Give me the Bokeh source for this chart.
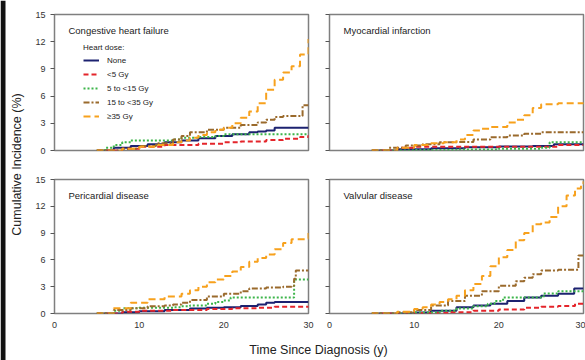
from bokeh.plotting import figure
from bokeh.models import (Range1d, FixedTicker, Label, Legend, LegendItem,
                          CustomLabelingPolicy, BoxAnnotation)
from bokeh.layouts import row, column
from bokeh.embed import file_html
from bokeh.resources import INLINE
import math

# ---------------- data ----------------
SERIES = ["None", "<5 Gy", "5 to <15 Gy", "15 to <35 Gy", "\u226535 Gy"]
X_TICKS = [0, 10, 20, 30]
Y_TICKS = [0, 3, 6, 9, 12, 15]
PANEL_TITLES = ["Congestive heart failure", "Myocardial infarction",
                "Pericardial disease", "Valvular disease"]

# Congestive heart failure
CHF_NONE_T = [5, 7, 9, 11, 13, 15, 17, 19, 21, 23, 24, 25, 26, 30]
CHF_NONE_V = [0, 0.3, 0.5, 0.7, 0.9, 1.1, 1.35, 1.6, 1.8, 2.0, 2.1, 2.2, 2.5, 2.5]
CHF_LT5_T = [5, 8, 10, 13, 17, 20, 22, 25, 27, 29, 30]
CHF_LT5_V = [0, 0.2, 0.4, 0.6, 0.75, 0.9, 1.0, 1.15, 1.3, 1.5, 1.7]
CHF_G515_T = [5, 6, 7, 8, 9, 12, 14, 15, 17, 19, 20, 30]
CHF_G515_V = [0, 0.3, 0.6, 0.9, 1.1, 1.1, 1.2, 1.4, 1.5, 1.6, 1.8, 1.8]
CHF_G1535_T = [5, 8, 10, 12, 14, 15, 16, 18, 20, 22, 24, 25, 26, 27, 29.3, 30]
CHF_G1535_V = [0, 0.2, 0.5, 0.8, 1.2, 1.6, 2.0, 2.3, 2.5, 2.8, 3.1, 3.4, 3.7, 3.8, 5.0, 5.0]
CHF_G35_T = [5, 8, 10, 12, 14, 15, 16, 17, 18, 19, 20, 21, 22, 23, 24, 25, 26, 27, 28, 29, 30]
CHF_G35_V = [0, 0.2, 0.4, 0.6, 0.9, 1.1, 1.4, 1.7, 2.0, 2.3, 2.5, 3.0, 3.6, 4.3, 5.2, 6.7, 7.8, 8.6, 9.3, 10.6, 12.3]

# Myocardial infarction
MI_NONE_T = [5, 8, 12, 16, 20, 24, 26.5, 30]
MI_NONE_V = [0, 0.15, 0.25, 0.35, 0.45, 0.5, 0.7, 0.7]
MI_LT5_T = [5, 8, 10, 15, 20, 27, 30]
MI_LT5_V = [0, 0.3, 0.4, 0.4, 0.4, 0.6, 0.6]
MI_G515_T = [5, 10, 15, 20, 25, 26, 30]
MI_G515_V = [0, 0.05, 0.1, 0.2, 0.3, 0.9, 0.9]
MI_G1535_T = [5, 7, 9, 11, 13, 15, 17, 19, 21, 23, 25, 30]
MI_G1535_V = [0, 0.3, 0.55, 0.7, 0.9, 0.95, 1.2, 1.45, 1.65, 1.85, 2.0, 2.0]
MI_G35_T = [5, 8, 10, 12, 13.5, 15, 16, 17, 18, 19, 21, 22, 23, 24, 25, 27, 30]
MI_G35_V = [0, 0.3, 0.6, 0.8, 0.9, 1.2, 1.7, 2.2, 2.4, 2.6, 3.1, 3.4, 3.9, 4.7, 5.1, 5.2, 5.3]

# Pericardial disease
PD_NONE_T = [5, 8, 10, 13, 16, 18, 20, 22, 24, 25, 26, 30]
PD_NONE_V = [0, 0.15, 0.25, 0.4, 0.55, 0.65, 0.7, 0.85, 1.0, 1.2, 1.3, 1.3]
PD_LT5_T = [5, 8, 10, 14, 18, 21, 24, 26, 30]
PD_LT5_V = [0, 0.2, 0.3, 0.4, 0.5, 0.6, 0.65, 0.75, 0.8]
PD_G515_T = [5, 7, 8, 10, 14, 15, 16, 18, 19, 20, 20.8, 28.3, 30]
PD_G515_V = [0, 0.3, 0.6, 0.65, 0.7, 0.8, 0.9, 1.1, 1.3, 1.45, 1.8, 3.8, 3.8]
PD_G1535_T = [5, 7, 9, 11, 13, 14, 15, 16, 18, 20, 22, 23, 25, 27, 28, 28.3, 28.5, 30]
PD_G1535_V = [0, 0.4, 0.6, 0.8, 0.9, 1.0, 1.2, 1.5, 1.9, 2.2, 2.5, 2.8, 2.9, 3.0, 3.1, 3.9, 4.8, 4.8]
PD_G35_T = [5, 7, 9, 11, 13, 15, 16, 17, 18, 19, 20, 21, 22, 23, 24, 25, 26, 27, 28, 29.6, 30]
PD_G35_V = [0, 0.6, 1.2, 1.6, 1.9, 2.2, 2.6, 3.0, 3.5, 3.8, 4.2, 4.7, 5.2, 5.8, 6.2, 6.6, 7.2, 7.9, 8.3, 8.4, 9.0]

# Valvular disease
VD_NONE_T = [5, 10, 12, 15, 17, 19, 21, 23, 25, 27, 28.9, 30]
VD_NONE_V = [0, 0.1, 0.3, 0.7, 0.9, 1.1, 1.4, 1.8, 2.0, 2.2, 2.8, 2.8]
VD_LT5_T = [5, 10, 14, 17, 20, 23, 25, 27, 29, 30]
VD_LT5_V = [0, 0.05, 0.15, 0.3, 0.45, 0.65, 0.75, 0.85, 1.1, 1.1]
VD_G515_T = [5, 10, 13, 15, 17, 18.7, 19.5, 20.5, 25.3, 27, 30]
VD_G515_V = [0, 0.1, 0.3, 0.55, 0.8, 1.1, 1.4, 1.8, 2.25, 2.5, 2.5]
VD_G1535_T = [5, 8, 10, 12, 14, 16, 18, 20, 22, 23, 24, 25, 27, 29.4, 30]
VD_G1535_V = [0, 0.15, 0.4, 0.9, 1.4, 2.0, 2.5, 3.1, 3.6, 4.0, 4.4, 4.8, 4.9, 6.5, 6.5]
VD_G35_T = [5, 8, 10, 11, 12, 13, 14, 15, 16, 17, 18, 19, 20, 21, 22, 23, 24, 25, 26, 27, 28, 29, 29.7, 30]
VD_G35_V = [0, 0.2, 0.5, 0.7, 1.0, 1.3, 1.6, 2.0, 2.6, 3.3, 4.2, 5.3, 6.3, 7.1, 8.2, 9.0, 10.0, 10.2, 10.8, 12.0, 13.2, 14.0, 14.5, 14.8]

PANEL_DATA = [
    [(CHF_NONE_T, CHF_NONE_V), (CHF_LT5_T, CHF_LT5_V), (CHF_G515_T, CHF_G515_V),
     (CHF_G1535_T, CHF_G1535_V), (CHF_G35_T, CHF_G35_V)],
    [(MI_NONE_T, MI_NONE_V), (MI_LT5_T, MI_LT5_V), (MI_G515_T, MI_G515_V),
     (MI_G1535_T, MI_G1535_V), (MI_G35_T, MI_G35_V)],
    [(PD_NONE_T, PD_NONE_V), (PD_LT5_T, PD_LT5_V), (PD_G515_T, PD_G515_V),
     (PD_G1535_T, PD_G1535_V), (PD_G35_T, PD_G35_V)],
    [(VD_NONE_T, VD_NONE_V), (VD_LT5_T, VD_LT5_V), (VD_G515_T, VD_G515_V),
     (VD_G1535_T, VD_G1535_V), (VD_G35_T, VD_G35_V)],
]

# ---------------- styles ----------------
COLORS = ["#1c2270", "#e4252b", "#3cb54a", "#9a6a2c", "#f7a11d"]
DASHES = ["solid", "5 3", "2 2", "6 2 2 2", "7 4"]
WIDTHS = [2.0, 2.0, 2.0, 2.0, 2.0]
FONT = "Liberation Sans"
FRAME_COLOR = "#7f7f7f"

HIDE_LABELS = CustomLabelingPolicy(code="""
    for (const i of [...indices.ones()]) { indices.unset(i) }
    return indices
""")


def make_panel(idx, show_y_labels, show_x_axis, border_left, border_right,
               border_top, border_bottom, frame_h):
    p = figure(frame_width=254, frame_height=frame_h,
               x_range=Range1d(0, 30), y_range=Range1d(0, 15),
               output_backend="svg", toolbar_location=None,
               min_border_left=border_left, min_border_right=border_right,
               min_border_top=border_top, min_border_bottom=border_bottom)
    p.xgrid.visible = False
    p.ygrid.visible = False
    p.outline_line_color = FRAME_COLOR
    p.outline_line_width = 1.5
    p.background_fill_color = "white"
    p.border_fill_color = "white"

    ya = p.yaxis[0]
    ya.ticker = FixedTicker(ticks=Y_TICKS)
    ya.axis_line_color = None
    ya.major_tick_line_color = "#555555"
    ya.major_tick_out = 4
    ya.major_tick_in = 0
    ya.minor_tick_line_color = None
    if show_y_labels:
        ya.major_label_text_font = FONT
        ya.major_label_text_font_size = "9px"
        ya.major_label_text_color = "#333333"
        ya.major_label_standoff = 5
    else:
        ya.major_label_text_font_size = "0px"
        ya.major_label_standoff = 0
        ya.major_label_policy = HIDE_LABELS

    xa = p.xaxis[0]
    if show_x_axis:
        xa.ticker = FixedTicker(ticks=X_TICKS)
        xa.axis_line_color = None
        xa.major_tick_out = 0
        xa.major_tick_in = 0
        xa.major_tick_line_color = None
        xa.minor_tick_line_color = None
        xa.major_label_text_font = FONT
        xa.major_label_text_font_size = "9px"
        xa.major_label_text_color = "#333333"
        xa.major_label_standoff = 8
    else:
        xa.visible = False

    renderers = []
    for k, (ts, vs) in enumerate(PANEL_DATA[idx]):
        r = p.step(ts, vs, mode="after", line_color=COLORS[k],
                   line_width=WIDTHS[k], line_dash=DASHES[k])
        renderers.append(r)

    p.add_layout(Label(x=1.65, y=13.2, text=PANEL_TITLES[idx],
                       text_font=FONT, text_font_size="9.5px",
                       text_color="#222222", text_baseline="middle"))
    return p, renderers


tl, tl_r = make_panel(0, True, False, 26, 10, 14, 15, 136)
tr, _ = make_panel(1, False, False, 11, 2, 14, 15, 136)
bl, _ = make_panel(2, True, True, 26, 10, 14, 20, 134)
br, _ = make_panel(3, False, True, 11, 2, 14, 20, 134)

legend = Legend(items=[LegendItem(label=SERIES[k], renderers=[tl_r[k]]) for k in range(5)],
                location="top_left", title="Heart dose:",
                title_text_font=FONT, title_text_font_size="8px",
                title_text_font_style="normal", title_text_color="#222222",
                title_standoff=1,
                label_text_font=FONT, label_text_font_size="8px",
                label_text_color="#222222",
                glyph_width=16, glyph_height=14, label_height=14,
                spacing=0, padding=0, margin=29, label_standoff=8,
                background_fill_alpha=0, border_line_color=None)
tl.add_layout(legend)

TOP_H = 14 + 136 + 15
BOT_H = 14 + 134 + 20
XLAB_H = 360 - TOP_H - BOT_H

# y axis label figure, full height, with the dark scan edge along its left side
ylab = figure(width=28, height=360, x_range=Range1d(0, 28), y_range=Range1d(0, 360),
              output_backend="svg", toolbar_location=None, min_border=0)
ylab.axis.visible = False
ylab.grid.visible = False
ylab.outline_line_color = None
ylab.background_fill_color = "white"
ylab.border_fill_color = "white"
ylab.add_layout(BoxAnnotation(left=0, right=5, fill_color="#111111", fill_alpha=1.0,
                              line_color=None))
ylab.add_layout(Label(x=16, y=360 - 164, text="Cumulative Incidence (%)", angle=math.pi / 2,
                      text_font=FONT, text_font_size="12.5px", text_color="#222222",
                      text_align="center", text_baseline="middle"))

# x axis label figure
xlab = figure(width=557, height=XLAB_H, x_range=Range1d(0, 1), y_range=Range1d(0, 1),
              output_backend="svg", toolbar_location=None, min_border=0)
xlab.axis.visible = False
xlab.grid.visible = False
xlab.outline_line_color = None
xlab.add_layout(Label(x=290 / 557, y=0.4, text="Time Since Diagnosis (y)",
                      text_font=FONT, text_font_size="12.5px", text_color="#222222",
                      text_align="center", text_baseline="middle"))

grid = column(row(tl, tr), row(bl, br), xlab)
layout = row(ylab, grid)

open("out.html", "w").write(file_html(layout, INLINE))
